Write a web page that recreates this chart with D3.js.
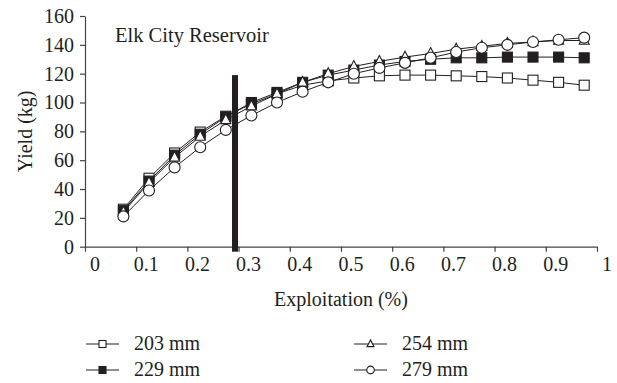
<!DOCTYPE html>
<html>
<head>
<meta charset="utf-8">
<script src="https://cdn.jsdelivr.net/npm/d3@7"></script>
<style>
  body { margin: 0; background: #fff; }
  svg text { font-family: "Liberation Serif", "DejaVu Serif", serif; fill: #231f20; }
</style>
</head>
<body>
<svg id="chart" width="617" height="383"></svg>
<script>
// data
var exploitation = [0.075, 0.125, 0.175, 0.225, 0.275, 0.325, 0.375, 0.425, 0.475, 0.525,
                    0.575, 0.625, 0.675, 0.725, 0.775, 0.825, 0.875, 0.925, 0.975];
var y203 = [26, 47.5, 65, 79.5, 90.5, 99, 106, 112, 115, 117, 118.5, 119, 119, 118.5, 118, 117, 115.5, 114, 112];
var y229 = [25, 45.5, 63.5, 78, 90, 100, 107, 114, 119, 122.5, 126, 128.5, 130, 131, 131, 131.5, 131.5, 131.5, 131];
var y254 = [24, 44.5, 62, 76.5, 88, 97.5, 106, 114, 120, 125, 128.5, 131.5, 134, 137, 139, 141, 142, 143, 143];
var y279 = [21, 39, 55, 69, 81, 91, 100, 107.5, 114, 120, 124, 127.5, 131, 135, 138, 140, 142, 143.5, 145];
var seriesNames = ["203 mm", "229 mm", "254 mm", "279 mm"];
var seriesShapes = ["square", "filled", "triangle", "circle"];
var xTicks = [0, 0.1, 0.2, 0.3, 0.4, 0.5, 0.6, 0.7, 0.8, 0.9, 1];
var yTicks = [0, 20, 40, 60, 80, 100, 120, 140, 160];
var refLine = { x: 0.293, top: 119 };

var ink = "#231f20";
var svg = d3.select("#chart");

var x = d3.scaleLinear().domain([0, 1]).range([85, 597]);
var y = d3.scaleLinear().domain([0, 160]).range([246.7, 16]);

// axes
var yAxis = svg.append("g").attr("transform", "translate(85,0)")
  .call(d3.axisLeft(y).tickValues(yTicks).tickSize(5).tickSizeOuter(0).tickPadding(6));
var xAxis = svg.append("g").attr("transform", "translate(0," + y(0) + ")")
  .call(d3.axisBottom(x).tickValues(xTicks).tickSize(5).tickSizeOuter(0).tickFormat(d3.format("")).tickPadding(5));

svg.selectAll(".domain, .tick line").attr("stroke", "#444").attr("stroke-width", 1.2);
yAxis.selectAll("text").attr("font-size", 20).attr("fill", ink).attr("font-family", "Liberation Serif");
xAxis.selectAll("text").attr("font-size", 20).attr("fill", ink).attr("font-family", "Liberation Serif")
  .attr("dx", 9.5);

// axis titles
svg.append("text").attr("transform", "translate(25," + ((y(0) + y(160)) / 2) + ") rotate(-90)")
  .attr("text-anchor", "middle").attr("dy", "0.35em").attr("font-size", 20).text("Yield (kg)");
svg.append("text").attr("x", (x(0) + x(1)) / 2).attr("y", 306)
  .attr("text-anchor", "middle").attr("font-size", 20).text("Exploitation (%)");

svg.append("text").attr("x", 115).attr("y", 42).attr("font-size", 20.5).text("Elk City Reservoir");

// markers
function marker(sel, shape, s) {
  if (shape === "circle") {
    sel.append("circle").attr("r", s * 0.55).attr("fill", "#fff").attr("stroke", ink).attr("stroke-width", 1.1);
  } else if (shape === "triangle") {
    var h = s * 0.95;
    sel.append("path").attr("d", "M0," + (-h * 0.62) + "L" + (s / 2) + "," + (h * 0.4) + "L" + (-s / 2) + "," + (h * 0.4) + "Z")
      .attr("fill", "#fff").attr("stroke", ink).attr("stroke-width", 1.1);
  } else {
    sel.append("rect").attr("x", -s / 2).attr("y", -s / 2).attr("width", s).attr("height", s)
      .attr("fill", shape === "filled" ? ink : "#fff").attr("stroke", ink).attr("stroke-width", 1.1);
  }
}

var allSeries = [y203, y229, y254, y279];
var line = d3.line().x((d, i) => x(exploitation[i])).y(d => y(d));

allSeries.forEach((vals, k) => {
  var g = svg.append("g");
  g.append("path").datum(vals).attr("d", line).attr("fill", "none").attr("stroke", ink).attr("stroke-width", 1);
  g.selectAll("g.pt").data(vals).enter().append("g").attr("class", "pt")
    .attr("transform", (d, i) => "translate(" + x(exploitation[i]) + "," + y(d) + ")")
    .each(function () { marker(d3.select(this), seriesShapes[k], 10); });
});

// reference bar
svg.append("rect").attr("x", x(refLine.x) - 3).attr("width", 6)
  .attr("y", y(refLine.top)).attr("height", y(0) - y(refLine.top) + 5).attr("fill", ink);

// legend
var legendPos = [[86, 344], [86, 370], [354, 344], [354, 370]];
seriesNames.forEach((name, k) => {
  var p = legendPos[k];
  var g = svg.append("g").attr("transform", "translate(" + p[0] + "," + p[1] + ")");
  g.append("line").attr("x1", 0).attr("x2", 33).attr("stroke", ink).attr("stroke-width", 1.2);
  var m = g.append("g").attr("transform", "translate(16.5,0)");
  marker(m, seriesShapes[k], 7);
  g.append("text").attr("x", 48).attr("y", 6).attr("font-size", 20).text(name);
});
</script>
</body>
</html>
